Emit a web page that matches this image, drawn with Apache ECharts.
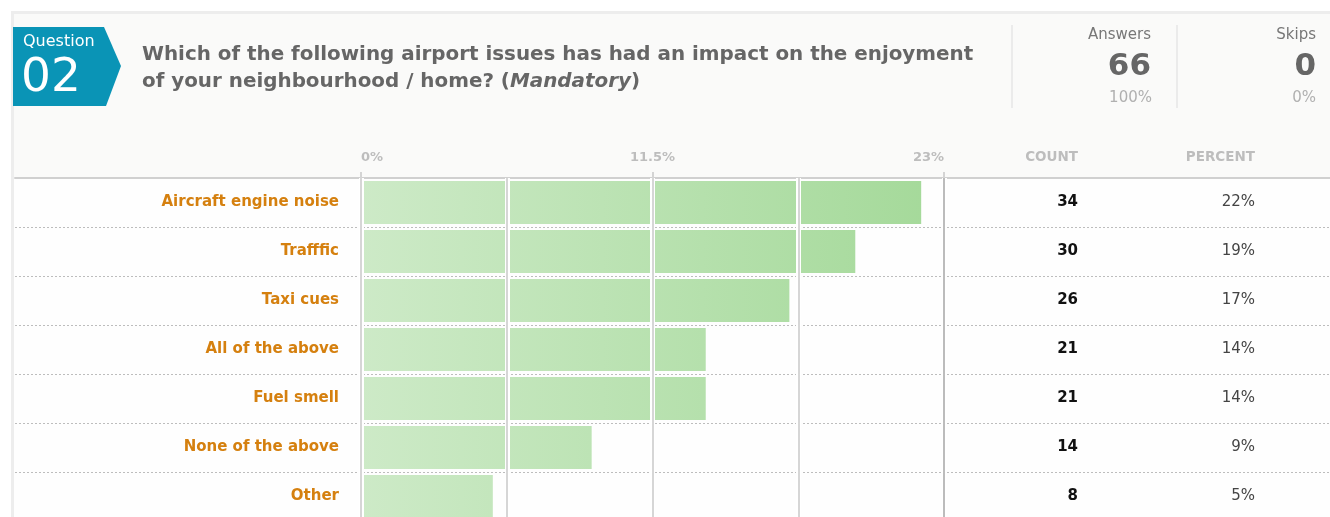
<!DOCTYPE html>
<html>
<head>
<meta charset="utf-8">
<script src="https://cdn.jsdelivr.net/npm/echarts@6/dist/echarts.min.js"></script>
<style>
  html, body { margin: 0; padding: 0; background: #fff; overflow: hidden; }
  /* taller than the window: the last row runs past the bottom edge */
  #chart { width: 1330px; height: 521px; }
</style>
</head>
<body>
<div id="chart"></div>
<script>
const answers = ['Aircraft engine noise', 'Trafffic', 'Taxi cues', 'All of the above', 'Fuel smell', 'None of the above', 'Other'];
const barPercent = [22.1, 19.5, 16.9, 13.6, 13.6, 9.1, 5.2];
const counts = [34, 30, 26, 21, 21, 14, 8];
const percentLabels = ['22%', '19%', '17%', '14%', '14%', '9%', '5%'];
const tickValues = [0, 11.5, 23];

const FONT = '"DejaVu Sans", sans-serif';
const chart = echarts.init(document.getElementById('chart'));

const gridBox = { top: 178, bottom: 0 };

const hiddenAxis = {
  axisLine: { show: false },
  axisTick: { show: false },
  axisLabel: { show: false },
};

chart.setOption({
  animation: false,
  backgroundColor: '#fff',
  textStyle: { fontFamily: FONT },
  grid: [
    { left: 361, width: 583, ...gridBox },
    { left: 15, right: 0, ...gridBox },
  ],
  xAxis: [
    {
      // gray gridlines, over the bars
      gridIndex: 0,
      type: 'value',
      min: 0,
      max: 23,
      interval: 5.75,
      z: 4,
      ...hiddenAxis,
      splitLine: {
        show: true,
        lineStyle: { color: ['#d6d6d6', '#d6d6d6', '#d6d6d6', '#d6d6d6', '#bcbcbc'], width: 2 },
      },
    },
    {
      // white gaps around the gridlines
      gridIndex: 0,
      type: 'value',
      min: 0,
      max: 23,
      interval: 5.75,
      z: 3,
      ...hiddenAxis,
      splitLine: { show: true, lineStyle: { color: '#fff', width: 5 } },
    },
    {
      // labels and ticks
      gridIndex: 0,
      type: 'value',
      position: 'top',
      min: 0,
      max: 23,
      interval: 5.75,
      z: 4,
      axisLine: { show: false },
      axisTick: {
        show: true,
        customValues: tickValues,
        length: 6,
        lineStyle: { color: '#d4d4d4', width: 2 },
      },
      axisLabel: {
        customValues: tickValues,
        formatter: v => v + '%',
        margin: 14,
        color: '#bdbdbd',
        fontWeight: 'bold',
        fontSize: 13,
        alignMinLabel: 'left',
        alignMaxLabel: 'right',
      },
      splitLine: { show: false },
    },
    {
      gridIndex: 1,
      type: 'value',
      position: 'top',
      axisLine: { show: true, lineStyle: { color: '#d0d0d0', width: 2 } },
      axisTick: { show: false },
      axisLabel: { show: false },
      splitLine: { show: false },
    },
  ],
  yAxis: [
    {
      gridIndex: 0,
      type: 'category',
      inverse: true,
      data: answers,
      axisLine: { show: false },
      axisTick: { show: false },
      axisLabel: {
        margin: 22,
        padding: [5, 0, 0, 0],
        color: '#d5800f',
        fontWeight: 'bold',
        fontSize: 15,
      },
    },
    {
      gridIndex: 1,
      type: 'category',
      inverse: true,
      data: answers,
      ...hiddenAxis,
      splitLine: {
        show: true,
        lineStyle: { color: '#bdbdbd', type: [2, 2], width: 1 },
      },
    },
    {
      gridIndex: 1,
      type: 'category',
      inverse: true,
      position: 'right',
      offset: -252,
      data: counts.map(String),
      axisLine: { show: false },
      axisTick: { show: false },
      axisLabel: { inside: true, margin: 0, padding: [5, 0, 0, 0], color: '#111', fontWeight: 'bold', fontSize: 15 },
    },
    {
      gridIndex: 1,
      type: 'category',
      inverse: true,
      position: 'right',
      offset: -75,
      data: percentLabels,
      axisLine: { show: false },
      axisTick: { show: false },
      axisLabel: { inside: true, margin: 0, padding: [5, 0, 0, 0], color: '#444', fontSize: 15 },
    },
  ],
  series: [
    {
      type: 'bar',
      xAxisIndex: 0,
      yAxisIndex: 0,
      data: barPercent,
      barWidth: 43,
      z: 2,
      itemStyle: {
        color: new echarts.graphic.LinearGradient(361, 0, 944, 0, [
          { offset: 0, color: '#cdeac7' },
          { offset: 1, color: '#a4d999' },
        ], true),
      },
    },
  ],
  graphic: [
    // panel frame and header background
    { type: 'rect', z: -10, shape: { x: 11, y: 11, width: 1330, height: 520 }, style: { fill: '#ededed' } },
    { type: 'rect', z: -9, shape: { x: 14, y: 14, width: 1320, height: 164 }, style: { fill: '#fafaf9' } },
    { type: 'rect', z: -9, shape: { x: 14, y: 178, width: 1320, height: 345 }, style: { fill: '#fefefe' } },
    // question badge
    {
      type: 'polygon', z: 1,
      shape: { points: [[13, 27], [104, 27], [121, 66], [106, 106], [13, 106]] },
      style: { fill: '#0a94b6' },
    },
    { type: 'text', z: 2, x: 23, y: 42, style: { text: 'Question', fill: '#fff', font: '16px ' + FONT, textVerticalAlign: 'middle' } },
    { type: 'text', z: 2, x: 21, y: 79, style: { text: '02', fill: '#fff', font: '47px ' + FONT, textVerticalAlign: 'middle' } },
    // question title
    {
      type: 'text', z: 2, x: 142, y: 41,
      style: {
        text: '{b|Which of the following airport issues has had an impact on the enjoyment}\n{b|of your neighbourhood / home? (}{i|Mandatory}{b|)}',
        rich: {
          b: { font: 'bold 19.9px ' + FONT, fill: '#666', lineHeight: 27 },
          i: { font: 'italic bold 19.9px ' + FONT, fill: '#666', lineHeight: 27 },
        },
      },
    },
    // stat separators
    { type: 'line', z: 1, shape: { x1: 1012, y1: 25, x2: 1012, y2: 108 }, style: { stroke: '#e6e6e6', lineWidth: 1.5 } },
    { type: 'line', z: 1, shape: { x1: 1177, y1: 25, x2: 1177, y2: 108 }, style: { stroke: '#e6e6e6', lineWidth: 1.5 } },
    // answers / skips
    { type: 'text', z: 2, x: 1151, y: 35, style: { text: 'Answers', fill: '#777', font: '15px ' + FONT, textAlign: 'right', textVerticalAlign: 'middle' } },
    { type: 'text', z: 2, x: 1151, y: 67, style: { text: '66', fill: '#666', font: 'bold 31px ' + FONT, textAlign: 'right', textVerticalAlign: 'middle' } },
    { type: 'text', z: 2, x: 1152, y: 98, style: { text: '100%', fill: '#b0b0b0', font: '15px ' + FONT, textAlign: 'right', textVerticalAlign: 'middle' } },
    { type: 'text', z: 2, x: 1316, y: 35, style: { text: 'Skips', fill: '#777', font: '15px ' + FONT, textAlign: 'right', textVerticalAlign: 'middle' } },
    { type: 'text', z: 2, x: 1316, y: 67, style: { text: '0', fill: '#666', font: 'bold 31px ' + FONT, textAlign: 'right', textVerticalAlign: 'middle' } },
    { type: 'text', z: 2, x: 1316, y: 98, style: { text: '0%', fill: '#b0b0b0', font: '15px ' + FONT, textAlign: 'right', textVerticalAlign: 'middle' } },
    // column headers
    { type: 'text', z: 2, x: 1078, y: 157, style: { text: 'COUNT', fill: '#bdbdbd', font: 'bold 13.5px ' + FONT, textAlign: 'right', textVerticalAlign: 'middle' } },
    { type: 'text', z: 2, x: 1255, y: 157, style: { text: 'PERCENT', fill: '#bdbdbd', font: 'bold 13.5px ' + FONT, textAlign: 'right', textVerticalAlign: 'middle' } },
  ],
});
</script>
</body>
</html>
